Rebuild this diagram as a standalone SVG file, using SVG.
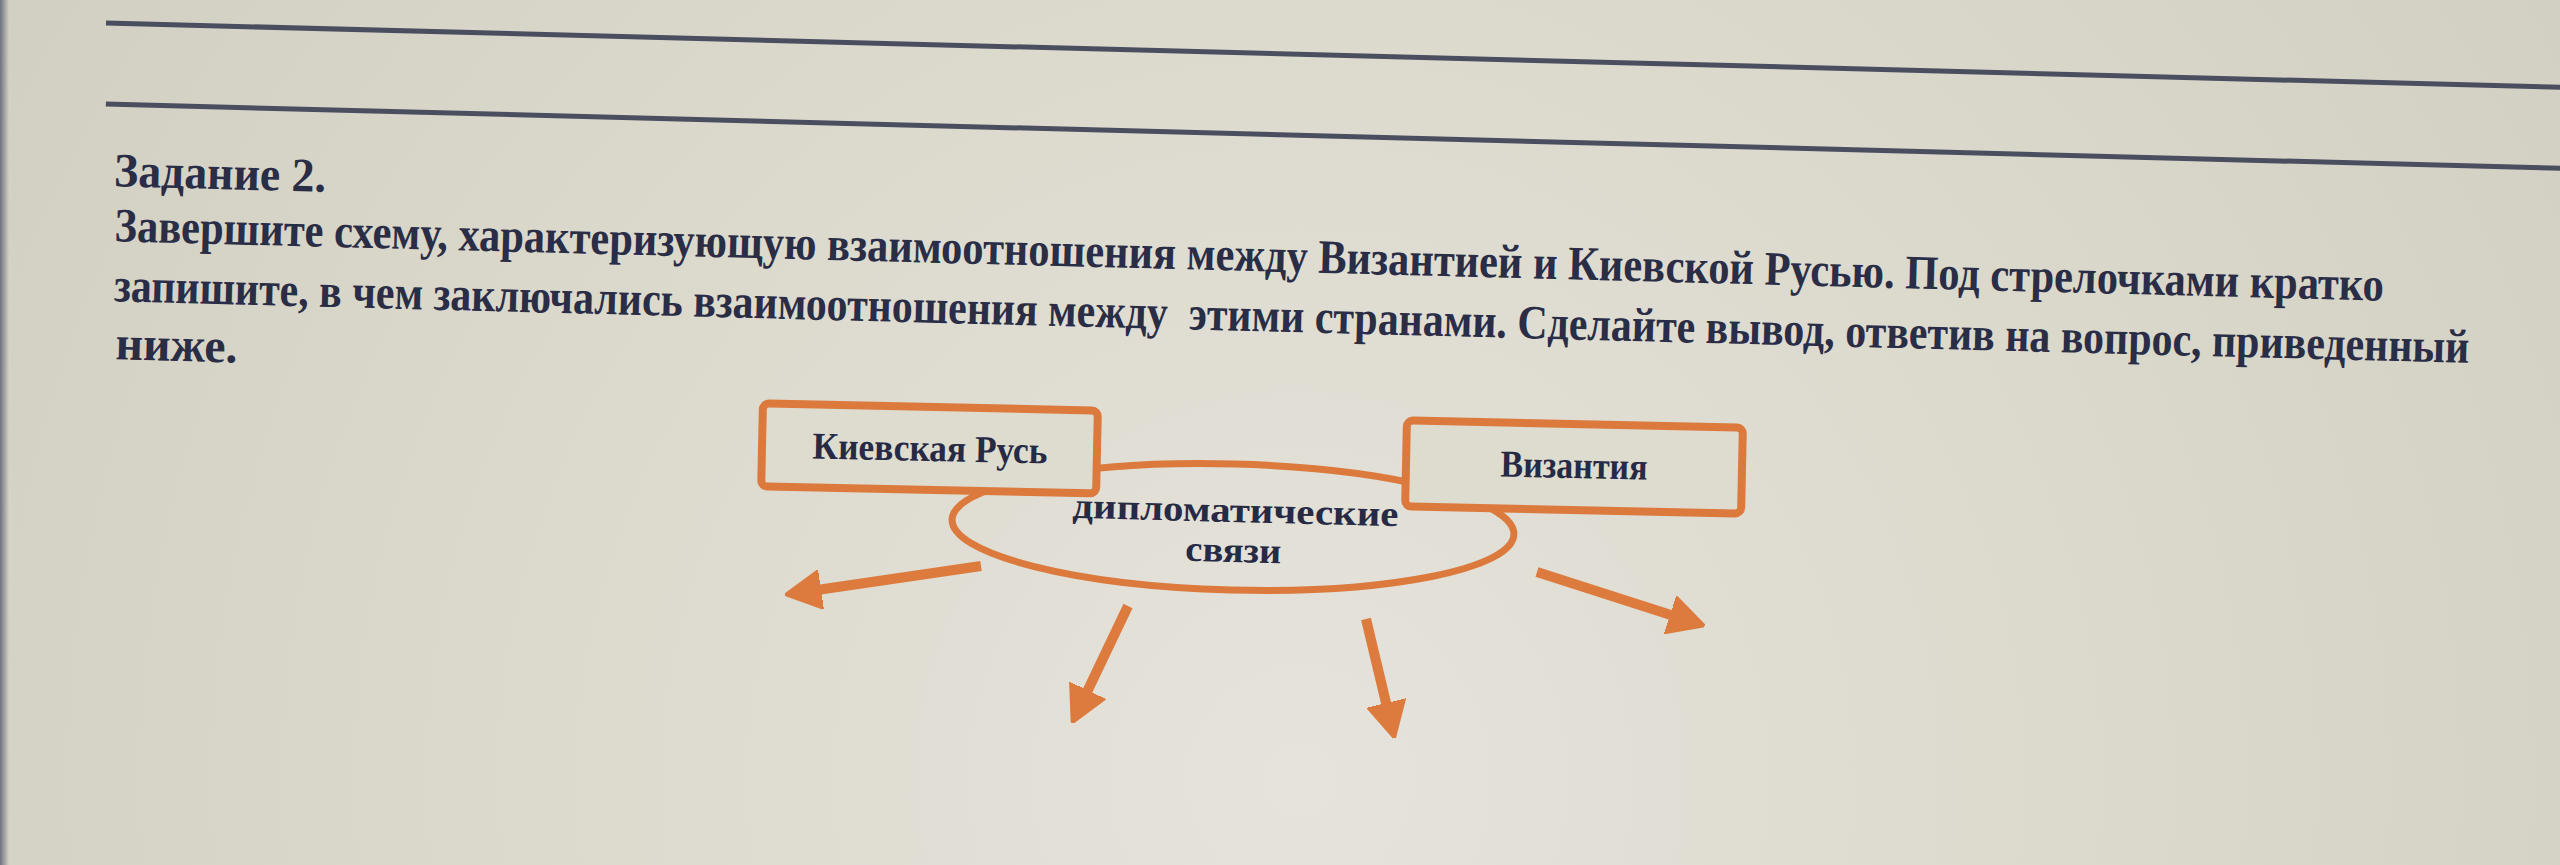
<svg xmlns="http://www.w3.org/2000/svg" width="2560" height="865" viewBox="0 0 2560 865">
  <defs>
    <radialGradient id="bg" cx="1300" cy="780" r="1700" gradientUnits="userSpaceOnUse">
      <stop offset="0" stop-color="#e5e3dc"/>
      <stop offset="0.45" stop-color="#dcd9cd"/>
      <stop offset="1" stop-color="#cfccc0"/>
    </radialGradient>
    <linearGradient id="leftEdge" x1="0" y1="0" x2="1" y2="0">
      <stop offset="0" stop-color="#5d6272" stop-opacity="0.85"/>
      <stop offset="1" stop-color="#5d6272" stop-opacity="0"/>
    </linearGradient>
    <marker id="head" viewBox="0 0 36 40" markerWidth="36" markerHeight="40" refX="4" refY="20" orient="auto" markerUnits="userSpaceOnUse">
      <path d="M0,1 L36,20 L0,39 Z" fill="#dd7b3e" stroke="#dd7b3e" stroke-width="3" stroke-linejoin="round"/>
    </marker>
    <style>
      .rule { stroke: #4b4e5e; stroke-width: 5; fill: none; }
      .body { font-family: "Liberation Serif", "Times New Roman", serif; font-weight: bold; font-size: 48px; fill: #2a2d46; }
      .lbl { font-family: "Liberation Serif", "Times New Roman", serif; font-weight: bold; fill: #262a44; text-anchor: middle; }
      .box { fill: #dedbcf; stroke: #dc7a3d; stroke-width: 8; }
      .oval { fill: none; stroke: #dc7a3d; stroke-width: 7; }
      .arrow { stroke: #dd7b3e; stroke-width: 10; fill: none; marker-end: url(#head); }
    </style>
  </defs>

  <rect x="0" y="0" width="2560" height="865" fill="url(#bg)"/>
  <rect x="0" y="0" width="9" height="865" fill="url(#leftEdge)"/>

  <g id="page" transform="rotate(1.5 106 23)">
    <line class="rule" x1="106" y1="23" x2="2620" y2="23"/>
    <line class="rule" x1="108" y1="104" x2="2620" y2="104"/>
    <text class="body" x="118" y="186" textLength="212" lengthAdjust="spacingAndGlyphs">Задание 2.</text>
    <text class="body" x="120" y="241" textLength="2270" lengthAdjust="spacingAndGlyphs">Завершите схему, характеризующую взаимоотношения между Византией и Киевской Русью. Под стрелочками кратко</text>
    <text class="body" x="121" y="301" textLength="2356" lengthAdjust="spacingAndGlyphs" xml:space="preserve">запишите, в чем заключались взаимоотношения между  этими странами. Сделайте вывод, ответив на вопрос, приведенный</text>
    <text class="body" x="124" y="359" textLength="122" lengthAdjust="spacingAndGlyphs">ниже.</text>
  </g>

  <g id="n3" transform="rotate(1.5 1233 527)">
    <ellipse class="oval" cx="1233" cy="527" rx="281" ry="63"/>
    <text class="lbl" x="1235" y="522" font-size="36" textLength="326" lengthAdjust="spacingAndGlyphs">дипломатические</text>
    <text class="lbl" x="1234" y="562" font-size="36" textLength="96" lengthAdjust="spacingAndGlyphs">связи</text>
  </g>

  <g id="n1" transform="rotate(1.2 930 449)">
    <rect class="box" x="762" y="407" width="335" height="83" rx="6"/>
    <text class="lbl" x="930" y="461" font-size="38" textLength="235" lengthAdjust="spacingAndGlyphs">Киевская Русь</text>
  </g>

  <g id="n2" transform="rotate(1.2 1574 467)">
    <rect class="box" x="1406" y="424" width="336" height="86" rx="6"/>
    <text class="lbl" x="1574" y="478" font-size="38" textLength="147" lengthAdjust="spacingAndGlyphs">Византия</text>
  </g>

  <g id="connectors">
    <line class="arrow" x1="981" y1="566" x2="817" y2="590"/>
    <line class="arrow" x1="1128" y1="606" x2="1086" y2="694"/>
    <line class="arrow" x1="1366" y1="619" x2="1387" y2="707"/>
    <line class="arrow" x1="1537" y1="572" x2="1674" y2="616"/>
  </g>
</svg>
